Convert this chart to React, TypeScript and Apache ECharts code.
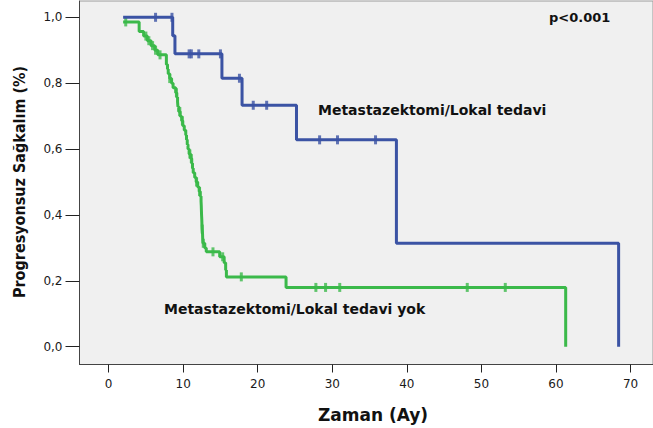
import React, { useEffect, useRef } from "react";
import * as echarts from "echarts";

// Kaplan–Meier steps: event time (months) and survival after that event
const blueTimes = [1.95, 8.6, 8.9, 15.2, 17.9, 25.2, 38.6, 68.4];
const blueSurv = [1.0, 0.944, 0.889, 0.815, 0.733, 0.628, 0.314, 0.0];
const blueCensored = [6.3, 8.5, 10.8, 11.1, 12.1, 15.0, 17.55, 19.4, 21.2, 28.3, 30.7, 35.8];

const greenTimes = [
  1.95, 4.1, 4.7, 5.2, 5.7, 6.2, 6.6, 7.75, 7.9, 8.0, 8.2, 8.45, 8.65, 9.0, 9.15, 9.25, 9.3, 9.4,
  9.6, 9.8, 9.95, 10.15, 10.35, 10.45, 10.55, 10.65, 10.8, 11.0, 11.15, 11.25, 11.35, 11.55, 11.75,
  11.95, 12.15, 12.3, 12.4, 12.43, 12.45, 12.47, 12.5, 12.52, 12.55, 12.6, 12.62, 12.65, 12.9, 13.1,
  14.9, 15.5, 15.7, 15.8, 23.8, 61.3,
];
const greenSurv = [
  0.986, 0.957, 0.943, 0.929, 0.914, 0.9, 0.886, 0.857, 0.843, 0.829, 0.814, 0.8, 0.786, 0.771, 0.757,
  0.743, 0.729, 0.714, 0.7, 0.686, 0.671, 0.657, 0.643, 0.628, 0.614, 0.6, 0.585, 0.571, 0.557, 0.542,
  0.528, 0.514, 0.5, 0.485, 0.471, 0.457, 0.442, 0.428, 0.414, 0.4, 0.386, 0.371, 0.357, 0.343, 0.329,
  0.314, 0.3, 0.288, 0.273, 0.255, 0.233, 0.212, 0.18, 0.0,
];
const greenCensored = [
  2.3, 5.0, 5.4, 5.9, 6.3, 6.9, 8.2, 9.1, 9.55, 9.9, 10.9, 11.1, 11.8, 12.2, 12.56, 12.7, 14.0, 15.3,
  17.8, 27.8, 29.1, 31.0, 48.1, 53.2,
];

const xTicks = [0, 10, 20, 30, 40, 50, 60, 70];
const yTicks = [0, 0.2, 0.4, 0.6, 0.8, 1.0];

const seriesNames = ["Metastazektomi/Lokal tedavi", "Metastazektomi/Lokal tedavi yok"];
const pValueText = "p<0.001";
const xTitle = "Zaman (Ay)";
const yTitle = "Progresyonsuz Sağkalım (%)";

const BLUE = "#3b53a4";
const GREEN = "#3bb94a";

function survAt(times: number[], surv: number[], t: number) {
  let s = surv[0];
  for (let i = 0; i < times.length; i++) {
    if (times[i] <= t) s = surv[i];
  }
  return s;
}

export default function App() {
  const ref = useRef<HTMLDivElement>(null);
  useEffect(() => {
    if (!ref.current) return;
    const chart = echarts.init(ref.current, null, { renderer: "svg" });
    const tickFont = { fontFamily: "DejaVu Sans", fontSize: 12, color: "#1a1a1a" };
    chart.setOption({
      animation: false,
      backgroundColor: "#ffffff",
      grid: {
        left: 79.5,
        right: -2,
        top: 1,
        bottom: 63.5,
        show: true,
        backgroundColor: "#f0f0f0",
        borderColor: "#9a9a9a",
        borderWidth: 1,
      },
      xAxis: {
        type: "value",
        min: -3.9,
        max: 73.01,
        splitLine: { show: false },
        axisLine: { show: true, onZero: false, lineStyle: { color: "#444", width: 1 } },
        axisTick: { show: true, length: 8, customValues: xTicks, lineStyle: { color: "#222", width: 1 } },
        axisLabel: { ...tickFont, margin: 13, customValues: xTicks, formatter: (v: number) => String(v) },
      },
      yAxis: {
        type: "value",
        min: -0.054,
        max: 1.0495,
        splitLine: { show: false },
        axisLine: { show: true, onZero: false, lineStyle: { color: "#444", width: 1 } },
        axisTick: { show: true, length: 14, customValues: yTicks, lineStyle: { color: "#222", width: 1 } },
        axisLabel: {
          ...tickFont,
          margin: 17,
          customValues: yTicks,
          formatter: (v: number) => v.toFixed(1).replace(".", ","),
        },
      },
      series: [
        {
          name: seriesNames[1],
          type: "line",
          step: "end",
          symbol: "none",
          data: greenTimes.map((t, i) => [t, greenSurv[i]]),
          lineStyle: { color: GREEN, width: 3 },
          z: 2,
        },
        {
          name: seriesNames[1] + " censored",
          type: "scatter",
          symbol: "rect",
          symbolSize: [3, 9],
          data: greenCensored.map((t) => [t, survAt(greenTimes, greenSurv, t)]),
          itemStyle: { color: GREEN },
          z: 3,
        },
        {
          name: seriesNames[0],
          type: "line",
          step: "end",
          symbol: "none",
          data: blueTimes.map((t, i) => [t, blueSurv[i]]),
          lineStyle: { color: BLUE, width: 3 },
          z: 4,
        },
        {
          name: seriesNames[0] + " censored",
          type: "scatter",
          symbol: "rect",
          symbolSize: [3, 9],
          data: blueCensored.map((t) => [t, survAt(blueTimes, blueSurv, t)]),
          itemStyle: { color: BLUE },
          z: 5,
        },
      ],
      graphic: [
        {
          type: "text",
          x: 549,
          y: 17,
          style: {
            text: pValueText,
            fontFamily: "DejaVu Sans",
            fontWeight: "bold",
            fontSize: 13,
            fill: "#111",
            textVerticalAlign: "middle",
          },
          z: 10,
        },
        {
          type: "text",
          x: 318,
          y: 109.5,
          style: {
            text: seriesNames[0],
            fontFamily: "DejaVu Sans",
            fontWeight: "bold",
            fontSize: 14,
            fill: "#111",
            textVerticalAlign: "middle",
          },
          z: 10,
        },
        {
          type: "text",
          x: 164,
          y: 308.5,
          style: {
            text: seriesNames[1],
            fontFamily: "DejaVu Sans",
            fontWeight: "bold",
            fontSize: 14,
            fill: "#111",
            textVerticalAlign: "middle",
          },
          z: 10,
        },
        {
          type: "text",
          x: 373,
          y: 415,
          style: {
            text: xTitle,
            fontFamily: "DejaVu Sans",
            fontWeight: "bold",
            fontSize: 17,
            fill: "#111",
            textAlign: "center",
            textVerticalAlign: "middle",
          },
          z: 10,
        },
        {
          type: "text",
          x: 19,
          y: 182,
          rotation: Math.PI / 2,
          style: {
            text: yTitle,
            fontFamily: "'Liberation Sans Narrow', 'DejaVu Sans Condensed', 'Liberation Sans'",
            fontWeight: "bold",
            fontSize: 16,
            fill: "#111",
            textAlign: "center",
            textVerticalAlign: "middle",
          },
          z: 10,
        },
      ],
    });
    return () => chart.dispose();
  }, []);
  return (
    <div
      ref={ref}
      style={{ position: "fixed", left: 0, top: 0, width: 653, height: 428, background: "#fff" }}
    />
  );
}
